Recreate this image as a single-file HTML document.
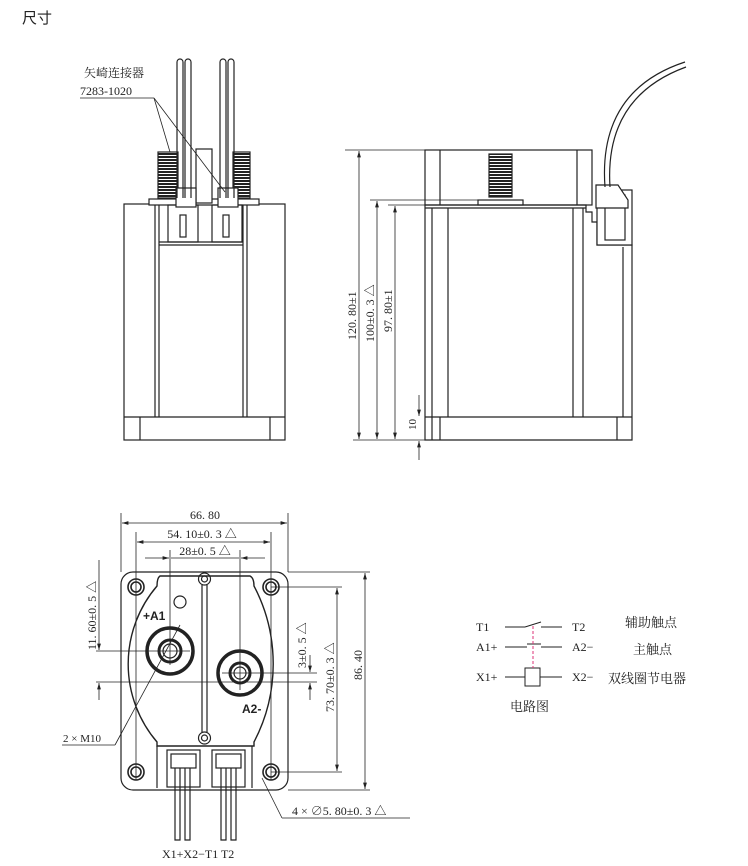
<!DOCTYPE html>
<html><head><meta charset="utf-8"><style>
html,body{margin:0;padding:0;background:#fff;}
svg{display:block;}
text{font-family:"Liberation Serif","Noto Serif CJK SC",serif;fill:#222;}
</style></head><body>
<svg width="748" height="866" viewBox="0 0 748 866" xmlns="http://www.w3.org/2000/svg">
<defs>
<marker id="a" viewBox="0 0 10 6" refX="10" refY="3" markerWidth="8" markerHeight="5" orient="auto-start-reverse"><path d="M0,0L10,3L0,6z" fill="#222"/></marker>
<pattern id="thr" width="4" height="3" patternUnits="userSpaceOnUse"><rect width="4" height="3" fill="#fff"/><rect width="4" height="2" fill="#222"/></pattern>
</defs>
<text x="22" y="23" font-size="15" style="font-family:'Noto Sans CJK SC',sans-serif">尺寸</text>

<g fill="none" stroke="#222" stroke-width="1.2">
<!-- LEFT FRONT VIEW -->
<rect x="124" y="204" width="161" height="236"/>
<line x1="124" y1="417" x2="285" y2="417"/>
<line x1="140" y1="417" x2="140" y2="440"/><line x1="270" y1="417" x2="270" y2="440"/>
<line x1="155" y1="204" x2="155" y2="417"/><line x1="159" y1="204" x2="159" y2="417"/>
<line x1="243" y1="204" x2="243" y2="417"/><line x1="247" y1="204" x2="247" y2="417"/>
<line x1="159" y1="245" x2="243" y2="245"/><line x1="159" y1="242" x2="243" y2="242"/>
<rect x="149" y="199" width="110" height="6" fill="#fff"/>
<rect x="158" y="152" width="20" height="46" fill="url(#thr)"/>
<rect x="233" y="152" width="17" height="46" fill="url(#thr)"/>
<rect x="196" y="149" width="16" height="54" fill="#fff"/>
<rect x="168" y="205" width="30" height="37"/><rect x="212" y="205" width="30" height="37"/>
<rect x="180" y="215" width="6" height="22"/><rect x="223" y="215" width="6" height="22"/>
<rect x="176" y="188" width="20" height="19" fill="#fff"/><rect x="218" y="188" width="20" height="19" fill="#fff"/>
<path d="M177,198V62a3,3 0 0 1 6,0V198M185,198V62a3,3 0 0 1 6,0V198"/>
<path d="M220,198V62a3,3 0 0 1 6,0V198M228,198V62a3,3 0 0 1 6,0V198"/>
<line x1="80" y1="98" x2="154" y2="98" stroke-width="0.8"/>
<line x1="154" y1="98" x2="170" y2="152" stroke-width="0.8"/><line x1="154" y1="98" x2="225" y2="192" stroke-width="0.8"/>

<!-- RIGHT SIDE VIEW -->
<rect x="425" y="150" width="167" height="55"/>
<line x1="440" y1="150" x2="440" y2="205"/><line x1="577" y1="150" x2="577" y2="205"/>
<rect x="489" y="154" width="23" height="43" fill="url(#thr)"/>
<rect x="478" y="200" width="45" height="5" fill="#fff"/>
<path d="M425,205H586V212H592V222H597V245H632V440H425Z"/>
<line x1="425" y1="208" x2="586" y2="208"/>
<line x1="432" y1="208" x2="432" y2="440"/><line x1="448" y1="208" x2="448" y2="417"/>
<line x1="573" y1="208" x2="573" y2="417"/><line x1="583" y1="208" x2="583" y2="417"/>
<line x1="623" y1="247" x2="623" y2="417"/>
<line x1="425" y1="417" x2="632" y2="417"/>
<line x1="440" y1="417" x2="440" y2="440"/><line x1="617" y1="417" x2="617" y2="440"/>
<rect x="597" y="190" width="35" height="55" fill="#fff"/>
<rect x="605" y="195" width="20" height="45"/>
<path d="M596,185h22l10,15v8h-32z" fill="#fff"/>
<path d="M605,187C600,120 630,80 685,62M610,187C606,124 634,86 686,67"/>
<g stroke-width="0.8">
<line x1="345" y1="150" x2="425" y2="150"/><line x1="370" y1="200" x2="478" y2="200"/>
<line x1="388" y1="205" x2="425" y2="205"/><line x1="353" y1="440" x2="425" y2="440"/>
<line x1="359" y1="151" x2="359" y2="439" marker-start="url(#a)" marker-end="url(#a)"/>
<line x1="377" y1="201" x2="377" y2="439" marker-start="url(#a)" marker-end="url(#a)"/>
<line x1="395" y1="206" x2="395" y2="439" marker-start="url(#a)" marker-end="url(#a)"/>
<line x1="419" y1="395" x2="419" y2="416" marker-end="url(#a)"/>
<line x1="419" y1="460" x2="419" y2="441" marker-end="url(#a)"/>
</g>

<!-- BOTTOM VIEW -->
<rect x="121" y="572" width="167" height="218" rx="12"/>
<path d="M160,576H250Q254,578 254,586A168,168 0 0 1 254,742V746H157V742A120,120 0 0 1 157,586Q157,578 160,576Z" stroke-width="1.4"/>
<line x1="157" y1="746" x2="157" y2="788"/><line x1="252" y1="746" x2="252" y2="788"/>
<g stroke-width="1.6">
<circle cx="136" cy="587" r="8"/><circle cx="136" cy="587" r="5"/>
<circle cx="271" cy="587" r="8"/><circle cx="271" cy="587" r="5"/>
<circle cx="136" cy="772" r="8"/><circle cx="136" cy="772" r="5"/>
<circle cx="271" cy="772" r="8"/><circle cx="271" cy="772" r="5"/>
</g>
<path d="M202,585V732M207,585V732"/>
<circle cx="204.5" cy="579" r="6"/><circle cx="204.5" cy="579" r="3"/>
<circle cx="204.5" cy="738" r="6"/><circle cx="204.5" cy="738" r="3"/>
<circle cx="180" cy="602" r="6"/>
<circle cx="170" cy="651" r="23" stroke-width="3.5"/><circle cx="170" cy="651" r="11" stroke-width="3"/><circle cx="170" cy="651" r="7"/>
<circle cx="240" cy="673" r="22" stroke-width="3.5"/><circle cx="240" cy="673" r="10" stroke-width="3"/><circle cx="240" cy="673" r="6"/>
<rect x="167" y="750" width="33" height="37"/><rect x="212" y="750" width="33" height="37"/>
<rect x="171" y="754" width="25" height="14"/><rect x="216" y="754" width="25" height="14"/>
<path d="M175,768V840H180V768M185,768V840H190V768M221,768V840H226V768M231,768V840H236V768"/>
<g stroke-width="0.8">
<line x1="121" y1="513" x2="121" y2="572"/><line x1="288" y1="513" x2="288" y2="572"/>
<line x1="136" y1="532" x2="136" y2="780"/><line x1="271" y1="532" x2="271" y2="780"/>
<line x1="170" y1="550" x2="170" y2="665"/><line x1="240" y1="550" x2="240" y2="690"/>
<line x1="122" y1="523" x2="287" y2="523" marker-start="url(#a)" marker-end="url(#a)"/>
<line x1="137" y1="542" x2="270" y2="542" marker-start="url(#a)" marker-end="url(#a)"/>
<line x1="145" y1="558" x2="169" y2="558" marker-end="url(#a)"/>
<line x1="265" y1="558" x2="241" y2="558" marker-end="url(#a)"/>
<line x1="171" y1="558" x2="239" y2="558"/>
<line x1="288" y1="572" x2="370" y2="572"/><line x1="271" y1="587" x2="342" y2="587"/>
<line x1="271" y1="772" x2="342" y2="772"/><line x1="288" y1="790" x2="370" y2="790"/>
<line x1="365" y1="573" x2="365" y2="789" marker-start="url(#a)" marker-end="url(#a)"/>
<line x1="337" y1="588" x2="337" y2="771" marker-start="url(#a)" marker-end="url(#a)"/>
<line x1="96" y1="651" x2="190" y2="651"/><line x1="96" y1="682" x2="317" y2="682"/>
<line x1="222" y1="673" x2="317" y2="673"/>
<line x1="99" y1="560" x2="99" y2="650" marker-end="url(#a)"/>
<line x1="99" y1="700" x2="99" y2="683" marker-end="url(#a)"/>
<line x1="310" y1="655" x2="310" y2="672" marker-end="url(#a)"/>
<line x1="310" y1="700" x2="310" y2="683" marker-end="url(#a)"/>
<line x1="62" y1="745" x2="115" y2="745"/><line x1="115" y1="745" x2="180" y2="625"/>
<line x1="282" y1="818" x2="410" y2="818"/><line x1="282" y1="818" x2="262" y2="778"/>
</g>

<!-- CIRCUIT -->
<g stroke-width="1">
<line x1="505" y1="627" x2="525" y2="627"/><line x1="525" y1="627" x2="541" y2="622"/>
<line x1="541" y1="627" x2="562" y2="627"/>
<line x1="505" y1="647" x2="527" y2="647"/><line x1="527" y1="644" x2="541" y2="644"/>
<line x1="541" y1="647" x2="562" y2="647"/>
<line x1="505" y1="677" x2="525" y2="677"/><rect x="525" y="668" width="15" height="18"/>
<line x1="540" y1="677" x2="562" y2="677"/>
<line x1="533" y1="626" x2="533" y2="668" stroke="#d37" stroke-dasharray="3,2"/>
</g>
</g>

<text x="84" y="77" font-size="12">矢崎连接器</text>
<text x="80" y="95" font-size="12">7283-1020</text>
<text transform="translate(356,340) rotate(-90)" font-size="12">120. 80±1</text>
<text transform="translate(374,342) rotate(-90)" font-size="12">100±0. 3 △</text>
<text transform="translate(392,332) rotate(-90)" font-size="12">97. 80±1</text>
<text transform="translate(416,430) rotate(-90)" font-size="11">10</text>

<text x="205" y="519" font-size="12" text-anchor="middle">66. 80</text>
<text x="202" y="538" font-size="12" text-anchor="middle">54. 10±0. 3 △</text>
<text x="205" y="555" font-size="12" text-anchor="middle">28±0. 5 △</text>
<text transform="translate(96,650) rotate(-90)" font-size="12">11. 60±0. 5 △</text>
<text transform="translate(306,668) rotate(-90)" font-size="12">3±0. 5 △</text>
<text transform="translate(334,712) rotate(-90)" font-size="12">73. 70±0. 3 △</text>
<text transform="translate(362,680) rotate(-90)" font-size="12">86. 40</text>
<text x="143" y="620" font-size="12" font-weight="bold" style="font-family:'Liberation Sans',sans-serif">+A1</text>
<text x="242" y="713" font-size="12" font-weight="bold" style="font-family:'Liberation Sans',sans-serif">A2-</text>
<text x="63" y="742" font-size="11">2 × M10</text>
<text x="292" y="815" font-size="12">4 × ∅5. 80±0. 3 △</text>
<text x="162" y="858" font-size="12">X1+X2−T1 T2</text>

<text x="476" y="631" font-size="12">T1</text>
<text x="572" y="631" font-size="12">T2</text>
<text x="476" y="651" font-size="12">A1+</text>
<text x="572" y="651" font-size="12">A2−</text>
<text x="476" y="681" font-size="12">X1+</text>
<text x="572" y="681" font-size="12">X2−</text>
<text x="625" y="627" font-size="13">辅助触点</text>
<text x="633" y="654" font-size="13">主触点</text>
<text x="608" y="683" font-size="13">双线圈节电器</text>
<text x="510" y="711" font-size="13">电路图</text>
</svg>
</body></html>
